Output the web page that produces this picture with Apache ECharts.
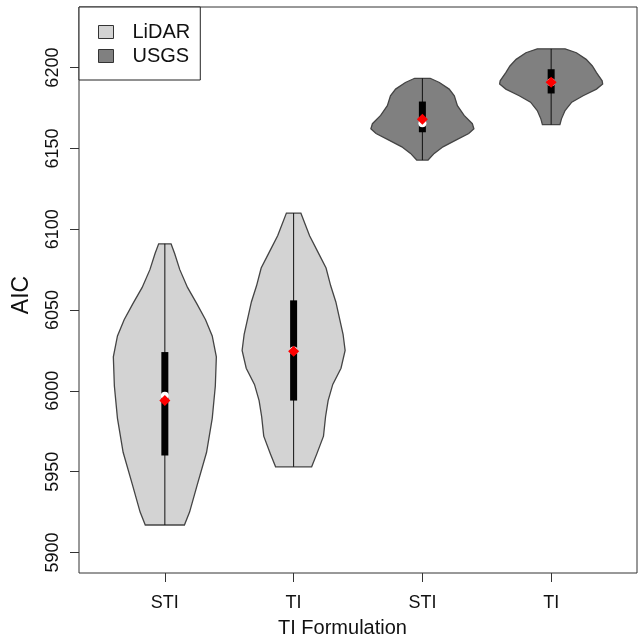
<!DOCTYPE html>
<html>
<head>
<meta charset="utf-8">
<script src="https://cdn.jsdelivr.net/npm/echarts@6/dist/echarts.min.js"></script>
<style>
html,body{margin:0;padding:0;background:#fff;}
#chart{width:638px;height:643px;}
</style>
</head>
<body>
<div id="chart"></div>
<script>
// ---- data ----
const xCategories = ['STI', 'TI', 'STI', 'TI'];
const xPositions = [1, 2, 3, 4];
const groups = ['LiDAR', 'LiDAR', 'USGS', 'USGS'];
const yTicks = [5900, 5950, 6000, 6050, 6100, 6150, 6200];

// violin outlines: [AIC, relative density (1 = widest)]
const violinLidarSTI = [
  [6091, 0.12], [6085, 0.19], [6075, 0.29], [6064, 0.44], [6054, 0.62], [6044, 0.79],
  [6034, 0.92], [6021, 1.00], [6003, 0.98], [5983, 0.92], [5962, 0.81], [5942, 0.63],
  [5925, 0.48], [5917, 0.38]
];
const violinLidarTI = [
  [6110, 0.14], [6096, 0.31], [6086, 0.47], [6076, 0.63], [6065, 0.72], [6055, 0.82],
  [6035, 0.96], [6025, 1.00], [6014, 0.92], [6004, 0.76], [5994, 0.67], [5984, 0.62],
  [5972, 0.58], [5961, 0.45], [5953, 0.35]
];
const violinUsgsSTI = [
  [6193.4, 0.15], [6190.8, 0.33], [6186.7, 0.52], [6182.6, 0.62], [6176.5, 0.68],
  [6170.4, 0.81], [6165.3, 0.97], [6162.2, 1.00], [6159.2, 0.90], [6155.1, 0.65],
  [6151.0, 0.40], [6146.9, 0.23], [6142.8, 0.11]
];
const violinUsgsTI = [
  [6211.6, 0.27], [6209.2, 0.49], [6205.1, 0.68], [6201.0, 0.80], [6196.9, 0.88],
  [6191.8, 0.99], [6189.8, 1.00], [6186.7, 0.88], [6182.6, 0.62], [6178.6, 0.40],
  [6173.4, 0.27], [6168.3, 0.20], [6164.7, 0.17]
];
const violinProfiles = [violinLidarSTI, violinLidarTI, violinUsgsSTI, violinUsgsTI];

const boxQ1 = [5960, 5994, 6160, 6184];
const boxQ3 = [6024, 6056, 6179, 6199];
const medians = [5997, 6025, 6165.5, 6191];
const means = [5994, 6024.5, 6168, 6191];

// ---- drawing ----
const HALF = 0.4;           // half width of widest violin, in x units
const FONT = 'Liberation Sans, Arial, sans-serif';
const colors = { LiDAR: '#d3d3d3', USGS: '#808080' };

function renderViolin(params, api) {
  const idx = api.value(2);
  const x = xPositions[idx];
  const prof = violinProfiles[idx];
  const pts = [];
  for (let i = 0; i < prof.length; i++) pts.push(api.coord([x + prof[i][1] * HALF, prof[i][0]]));
  for (let i = prof.length - 1; i >= 0; i--) pts.push(api.coord([x - prof[i][1] * HALF, prof[i][0]]));
  const top = api.coord([x, prof[0][0]]);
  const bot = api.coord([x, prof[prof.length - 1][0]]);
  const q3p = api.coord([x, boxQ3[idx]]);
  const q1p = api.coord([x, boxQ1[idx]]);
  const md = api.coord([x, medians[idx]]);
  const mn = api.coord([x, means[idx]]);
  const d = 5.5;
  return {
    type: 'group',
    children: [
      { type: 'polygon', shape: { points: pts },
        style: { fill: colors[groups[idx]], stroke: '#444', lineWidth: 1.3 } },
      { type: 'line', shape: { x1: top[0], y1: top[1], x2: bot[0], y2: bot[1] },
        style: { stroke: '#111', lineWidth: 1 } },
      { type: 'rect', shape: { x: q3p[0] - 3.5, y: q3p[1], width: 7, height: q1p[1] - q3p[1] },
        style: { fill: '#000' } },
      { type: 'circle', shape: { cx: md[0], cy: md[1], r: 4 }, style: { fill: '#fff' } },
      { type: 'polygon', shape: { points: [[mn[0], mn[1] - d], [mn[0] + d, mn[1]], [mn[0], mn[1] + d], [mn[0] - d, mn[1]]] },
        style: { fill: '#ff0000' } }
    ]
  };
}

function seriesFor(name) {
  const data = [];
  for (let i = 0; i < xPositions.length; i++) {
    if (groups[i] === name) data.push([xPositions[i], means[i], i]);
  }
  return {
    type: 'custom', name: name, renderItem: renderViolin, data: data,
    encode: { x: 0, y: 1 }, itemStyle: { color: colors[name] }, silent: true
  };
}

const chart = echarts.init(document.getElementById('chart'), null, { renderer: 'canvas' });
chart.setOption({
  animation: false,
  backgroundColor: '#fff',
  textStyle: { fontFamily: FONT },
  grid: { left: 79, top: 7, right: 1, bottom: 64, show: true, borderColor: '#333', borderWidth: 1, backgroundColor: 'transparent' },
  legend: {
    orient: 'vertical', left: 79, top: 7, z: 10,
    padding: [15, 10, 14, 19], itemGap: 4, itemWidth: 15, itemHeight: 13,
    icon: 'rect', backgroundColor: '#fff', borderColor: '#222', borderWidth: 1,
    selectedMode: false,
    itemStyle: { borderColor: '#333', borderWidth: 1 },
    textStyle: { fontSize: 20, fontFamily: FONT, color: '#111', padding: [0, 0, 0, 14] },
    data: ['LiDAR', 'USGS']
  },
  xAxis: {
    type: 'value', min: 1 / 3, max: 14 / 3,
    axisLine: { show: false },
    splitLine: { show: false },
    axisTick: { show: true, customValues: xPositions, length: 9, lineStyle: { color: '#333' } },
    axisLabel: { customValues: xPositions, fontSize: 18, margin: 21, color: '#111', fontFamily: FONT,
      formatter: function (v) { const k = xPositions.indexOf(Math.round(v)); return k >= 0 ? xCategories[k] : ''; } },
    name: 'TI Formulation', nameLocation: 'middle', nameGap: 45,
    nameTextStyle: { fontSize: 20, color: '#111', fontFamily: FONT, padding: [0, 31, 0, 0] }
  },
  yAxis: {
    type: 'value', min: 5887.3, max: 6237.5,
    axisLine: { show: false },
    splitLine: { show: false },
    axisTick: { show: true, customValues: yTicks, length: 9, lineStyle: { color: '#333' } },
    axisLabel: { customValues: yTicks, rotate: 90, fontSize: 18, margin: 17, color: '#111', fontFamily: FONT,
      formatter: function (v) { return String(Math.round(v)); } },
    name: 'AIC', nameLocation: 'middle', nameGap: 46,
    nameTextStyle: { fontSize: 23, color: '#111', fontFamily: FONT, padding: [0, 10, 0, 0] }
  },
  series: [seriesFor('LiDAR'), seriesFor('USGS')]
});
</script>
</body>
</html>
